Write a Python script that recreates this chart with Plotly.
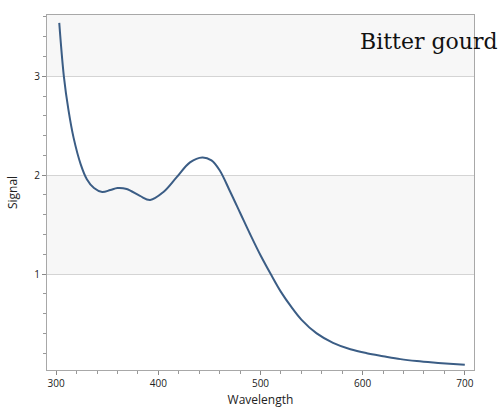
import plotly.graph_objects as go

wavelength = [303, 307.5, 312, 317, 324, 330, 337, 345, 353, 360, 369, 382, 392, 405, 418,
              431, 443, 452, 460, 470, 480, 490, 500, 510, 520, 530, 540, 555, 571, 588,
              604, 620, 637, 653, 669, 685, 700]
signal = [3.54, 3.00, 2.66, 2.38, 2.11, 1.96, 1.87, 1.83, 1.85, 1.87, 1.86, 1.79, 1.75, 1.83, 1.98,
          2.13, 2.18, 2.15, 2.05, 1.84, 1.62, 1.40, 1.19, 1.00, 0.82, 0.67, 0.54, 0.40, 0.305, 0.24,
          0.20, 0.17, 0.14, 0.12, 0.105, 0.093, 0.083]
x_ticks = [300, 400, 500, 600, 700]
y_ticks = [1, 2, 3]
title_text = "Bitter gourd"

x_range = [291, 709]
y_range = [0.03, 3.62]

fig = go.Figure()
fig.add_trace(go.Scatter(x=wavelength, y=signal, mode="lines",
                         line=dict(color="#3b5d85", width=2, shape="spline", smoothing=1.0),
                         hoverinfo="skip"))

# alternating background bands
bands = [(1, 2), (3, y_range[1])]
for y0, y1 in bands:
    fig.add_shape(type="rect", xref="paper", yref="y", x0=0, x1=1, y0=y0, y1=y1,
                  fillcolor="#f7f7f7", line=dict(width=0), layer="below")

fig.add_annotation(text=title_text, xref="paper", yref="paper", x=1.06, y=0.924,
                   xanchor="right", yanchor="middle", showarrow=False,
                   font=dict(family="DejaVu Serif", size=22, color="#111111"))

fig.update_layout(
    width=502, height=416,
    margin=dict(l=47, r=28, t=15, b=42),
    paper_bgcolor="white", plot_bgcolor="white",
    showlegend=False,
    font=dict(family="Open Sans", size=10, color="#222222"),
)
fig.update_xaxes(range=x_range, tickvals=x_ticks, showgrid=False, zeroline=False,
                 showline=True, linecolor="#a8a8a8", linewidth=1, mirror=True,
                 ticks="outside", ticklen=4, tickcolor="#888888",
                 minor=dict(dtick=20, ticks="outside", ticklen=3, tickcolor="#999999", showgrid=False),
                 title=dict(text="Wavelength", font=dict(size=12, color="#222222"), standoff=6),
                 tickfont=dict(size=10, color="#222222"))
fig.update_yaxes(range=y_range, tickvals=y_ticks, showgrid=True, gridcolor="#d4d4d4", gridwidth=1,
                 zeroline=False, showline=True, linecolor="#a8a8a8", linewidth=1, mirror=True,
                 ticks="outside", ticklen=4, tickcolor="#888888",
                 minor=dict(dtick=0.2, ticks="outside", ticklen=3, tickcolor="#999999", showgrid=False),
                 title=dict(text="Signal", font=dict(size=12, color="#222222"), standoff=14),
                 tickfont=dict(size=10, color="#222222"))

fig.write_html("out.html")
